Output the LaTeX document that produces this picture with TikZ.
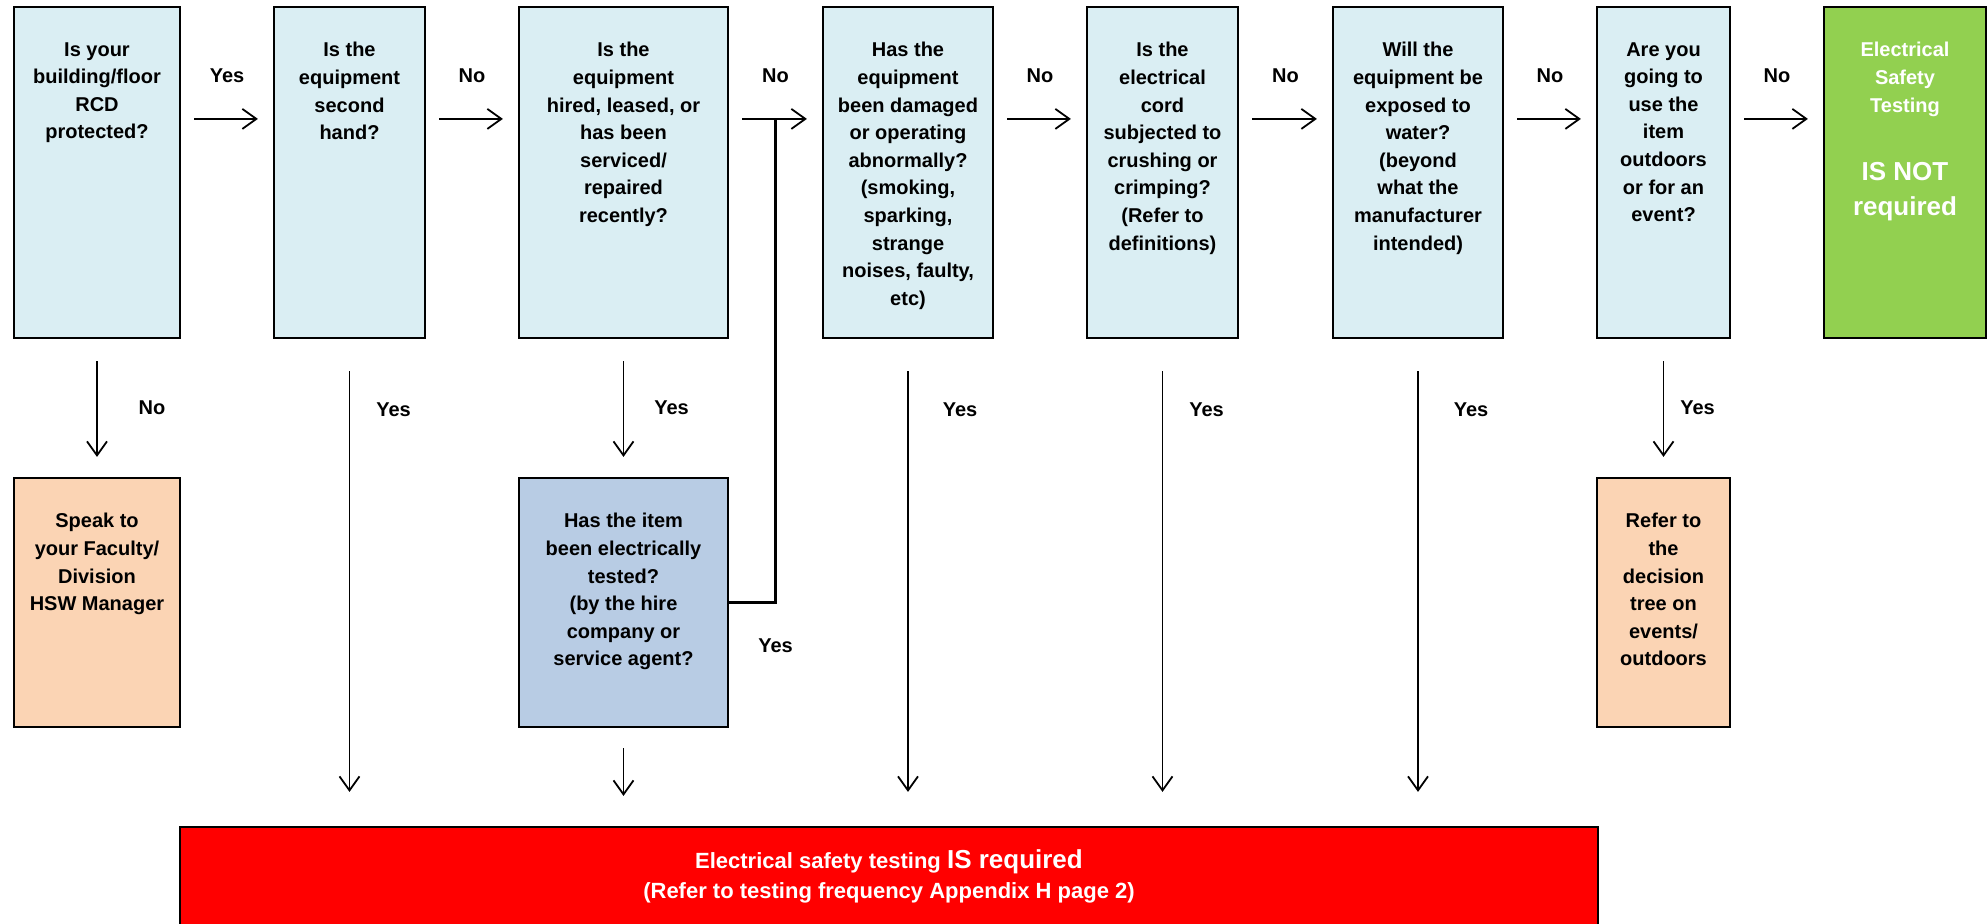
\documentclass[tikz,border=0pt]{standalone}
\usepackage{fontspec}
\setmainfont{Liberation Sans}
\usepackage{tikz}
\usetikzlibrary{arrows.meta}

\definecolor{qblue}{HTML}{DAEEF3}
\definecolor{hblue}{HTML}{B8CCE4}
\definecolor{peach}{HTML}{FBD4B4}
\definecolor{okgreen}{HTML}{92D050}
\definecolor{alarmred}{HTML}{FF0000}

\tikzset{
	box/.style={draw, line width=1.1pt, inner sep=0pt},
	qbox/.style={box, fill=qblue, minimum height=165.5pt},
	abox/.style={box, minimum height=124.5pt},
	txt/.style={anchor=north, inner sep=0pt, align=center, font=\bfseries\fontsize{10}{13.8}\selectfont},
	lbl/.style={inner sep=0pt, font=\bfseries\fontsize{10}{12}\selectfont},
	arr/.style={line width=0.9pt, -{Straight Barb[length=7pt,width=10pt]}},
	across/.style={arr, shorten <=6.5pt, shorten >=7.5pt},
	downshort/.style={arr, shorten <=11pt, shorten >=10pt},
	downlong/.style={arr, shorten <=16pt, shorten >=17pt}
}

\begin{document}
\begin{tikzpicture}[x=0.5pt,y=-0.5pt]
				\useasboundingbox (0,0) rectangle (1987,923);
				
				\node[qbox, minimum width=83pt] (b1) at (97,172.5) {};
				\node[qbox, minimum width=75.5pt] (b2) at (349.5,172.5) {};
				\node[qbox, minimum width=104.5pt] (b3) at (623.5,172.5) {};
				\node[qbox, minimum width=85pt] (b4) at (908,172.5) {};
				\node[qbox, minimum width=75.5pt] (b5) at (1162.5,172.5) {};
				\node[qbox, minimum width=85pt] (b6) at (1418,172.5) {};
				\node[qbox, minimum width=66.5pt] (b7) at (1663.5,172.5) {};
				\node[qbox, fill=okgreen, minimum width=81pt] (b8) at (1905,172.5) {};
				
				\node[abox, fill=peach, minimum width=83pt] (s1) at (97,602.5) {};
				\node[abox, fill=hblue, minimum width=104.5pt] (h1) at (623.5,602.5) {};
				\node[abox, fill=peach, minimum width=66.5pt] (r1) at (1663.5,602.5) {};
				\node[box, fill=alarmred, minimum width=709pt, minimum height=60pt] (red) at (889,887) {};
				
				\node[txt] (b1t) at ([yshift=-18pt]b1.north) {Is your\\building/floor\\RCD\\protected?};
				\node[txt] (b2t) at ([yshift=-18pt]b2.north) {Is the\\equipment\\second\\hand?};
				\node[txt] (b3t) at ([yshift=-18pt]b3.north) {Is the\\equipment\\hired, leased, or\\has been\\serviced/\\repaired\\recently?};
				\node[txt] (b4t) at ([yshift=-18pt]b4.north) {Has the\\equipment\\been damaged\\or operating\\abnormally?\\(smoking,\\sparking,\\strange\\noises, faulty,\\etc)};
				\node[txt] (b5t) at ([yshift=-18pt]b5.north) {Is the\\electrical\\cord\\subjected to\\crushing or\\crimping?\\(Refer to\\definitions)};
				\node[txt] (b6t) at ([yshift=-18pt]b6.north) {Will the\\equipment be\\exposed to\\water?\\(beyond\\what the\\manufacturer\\intended)};
				\node[txt] (b7t) at ([yshift=-18pt]b7.north) {Are you\\going to\\use the\\item\\outdoors\\or for an\\event?};
				\node[txt, text=white] (b8t) at ([yshift=-18pt]b8.north) {Electrical\\Safety\\Testing};
				\node[txt, text=white, font=\bfseries\fontsize{13}{17.5}\selectfont] (b8u) at ([yshift=-78pt]b8.north) {IS NOT\\required};
				
				\node[txt] (s1t) at ([yshift=-18pt]s1.north) {Speak to\\your Faculty/\\Division\\HSW Manager};
				\node[txt] (h1t) at ([yshift=-18pt]h1.north) {Has the item\\been electrically\\tested?\\(by the hire\\company or\\service agent?};
				\node[txt] (r1t) at ([yshift=-18pt]r1.north) {Refer to\\the\\decision\\tree on\\events/\\outdoors};
				\node[txt, text=white, font=\bfseries\fontsize{11}{15}\selectfont] (redt) at ([yshift=-11.5pt]red.north) {Electrical safety testing {\fontsize{13}{15}\selectfont IS required}\\(Refer to testing frequency Appendix H page 2)};
				
				\draw[across] ([yshift=-56.5pt]b1.north east) -- node[lbl, yshift=21.5pt] (n1) {Yes} ([yshift=-56.5pt]b2.north west);
				\draw[across] ([yshift=-56.5pt]b2.north east) -- node[lbl, yshift=21.5pt] (n2) {No} ([yshift=-56.5pt]b3.north west);
				\draw[across] ([yshift=-56.5pt]b3.north east) -- node[lbl, yshift=21.5pt] (n3) {No} coordinate[pos=0.5] (j) ([yshift=-56.5pt]b4.north west);
				\draw[across] ([yshift=-56.5pt]b4.north east) -- node[lbl, yshift=21.5pt] (n4) {No} ([yshift=-56.5pt]b5.north west);
				\draw[across] ([yshift=-56.5pt]b5.north east) -- node[lbl, yshift=21.5pt] (n5) {No} ([yshift=-56.5pt]b6.north west);
				\draw[across] ([yshift=-56.5pt]b6.north east) -- node[lbl, yshift=21.5pt] (n6) {No} ([yshift=-56.5pt]b7.north west);
				\draw[across] ([yshift=-56.5pt]b7.north east) -- node[lbl, yshift=21.5pt] (n7) {No} ([yshift=-56.5pt]b8.north west);
				
				\draw[line width=1.1pt] (h1.east) -| (j);
				\node[lbl, yshift=-21.5pt] (n8) at (h1.east -| j) {Yes};
				
				\draw[downshort] (b1.south) -- node[lbl, xshift=27.5pt] (n9) {No} (s1.north);
				\draw[downlong] (b2.south) -- node[lbl, pos=0.145, xshift=22pt] (n10) {Yes} (b2.south |- red.north);
				\draw[downshort] (b3.south) -- node[lbl, xshift=24pt] (n11) {Yes} (h1.north);
				\draw[arr, shorten <=10pt, shorten >=15pt] (h1.south) -- (h1.south |- red.north);
				\draw[downlong] (b4.south) -- node[lbl, pos=0.145, xshift=26pt] (n12) {Yes} (b4.south |- red.north);
				\draw[downlong] (b5.south) -- node[lbl, pos=0.145, xshift=22pt] (n13) {Yes} (b5.south |- red.north);
				\draw[downlong] (b6.south) -- node[lbl, pos=0.145, xshift=26.5pt] (n14) {Yes} (b6.south |- red.north);
				\draw[downshort] (b7.south) -- node[lbl, xshift=17pt] (n15) {Yes} (r1.north);
\end{tikzpicture}
\end{document}
